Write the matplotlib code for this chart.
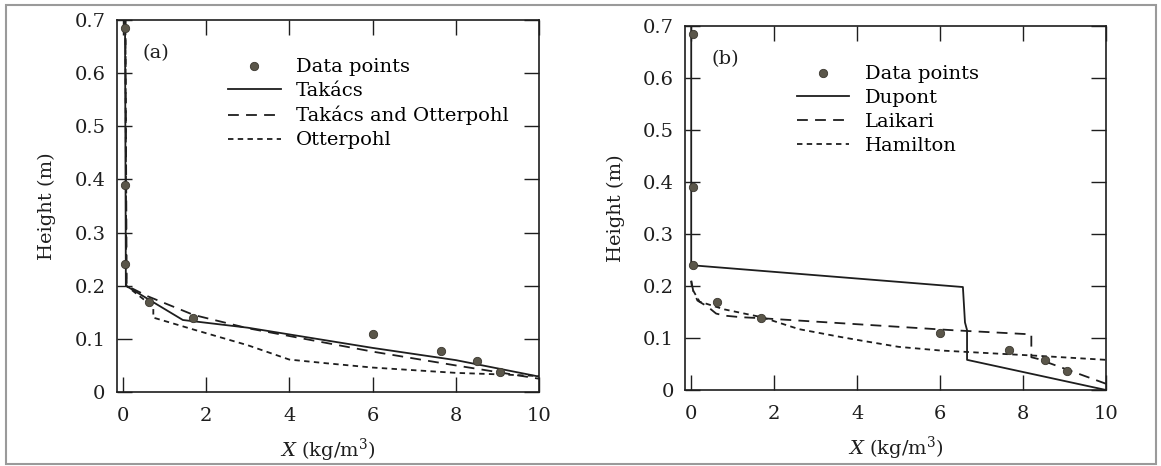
import matplotlib
matplotlib.use("Agg")
import matplotlib.pyplot as plt
from matplotlib.patches import Rectangle

plt.rcParams['font.family'] = ['DejaVu Serif']
plt.rcParams['mathtext.fontset'] = 'dejavuserif'

# measured data points (same in both panels)
data_x = [0.04, 0.05, 0.05, 0.62, 1.69, 6.0, 7.65, 8.52, 9.06]
data_y = [0.685, 0.39, 0.24, 0.169, 0.139, 0.109, 0.077, 0.058, 0.037]

# panel (a) model curves
takacs_x = [0.05, 0.07, 1.44, 3.0, 6.0, 8.0, 10.0]
takacs_y = [0.70, 0.20, 0.1355, 0.121, 0.083, 0.060, 0.029]

tak_ott_x = [0.06, 0.09, 0.6, 1.7, 3.0, 6.0, 8.0, 10.0]
tak_ott_y = [0.70, 0.20, 0.18, 0.145, 0.12, 0.076, 0.050, 0.025]

otterpohl_x = [0.06, 0.08, 0.73, 0.73, 1.72, 3.0, 4.0, 4.9, 6.0, 8.0, 9.1, 10.0]
otterpohl_y = [0.70, 0.20, 0.16, 0.14, 0.117, 0.088, 0.061, 0.054, 0.046, 0.036, 0.033, 0.030]

# panel (b) model curves
dupont_x = [0.0, 0.0, 6.55, 6.6, 6.65, 6.65, 10.0]
dupont_y = [0.70, 0.24, 0.198, 0.13, 0.115, 0.058, 0.0]

laikari_x = [0.0, 0.05, 0.15, 0.4, 0.6, 0.8, 1.2, 1.7, 4.3, 6.3, 8.2, 8.2, 8.35, 10.0]
laikari_y = [0.21, 0.19, 0.172, 0.16, 0.147, 0.143, 0.14, 0.138, 0.125, 0.115, 0.107, 0.063, 0.06, 0.012]

hamilton_x = [0.0, 0.02, 0.2, 0.8, 1.7, 2.6, 3.6, 4.1, 5.0, 6.0, 7.6, 8.3, 10.0]
hamilton_y = [0.21, 0.195, 0.17, 0.155, 0.14, 0.117, 0.102, 0.095, 0.083, 0.076, 0.069, 0.066, 0.058]

xticks = [0, 2, 4, 6, 8, 10]
yticks = [0, 0.1, 0.2, 0.3, 0.4, 0.5, 0.6, 0.7]
ytick_labels = ['0', '0.1', '0.2', '0.3', '0.4', '0.5', '0.6', '0.7']

ink = '#1e1e1e'
dot = '#5a564a'
lw = 1.3
dashed = (0, (6, 4))
dotted = (0, (3, 2.4))

fig = plt.figure(figsize=(11.61, 4.66), dpi=100)
fig.patches.append(Rectangle((6 / 1161, 1 - 464 / 466), 1150 / 1161, 459 / 466,
                             transform=fig.transFigure, fill=False,
                             edgecolor='#9a9a9a', linewidth=1.5))

ax_a = fig.add_axes([116.7 / 1161, 1 - 392 / 466, 422.3 / 1161, 372 / 466])
ax_b = fig.add_axes([685 / 1161, 1 - 390 / 466, 421 / 1161, 364 / 466])


def style(ax, tag):
    ax.set_xlim(-0.15, 10)
    ax.set_ylim(0, 0.7)
    ax.set_xticks(xticks)
    ax.set_yticks(yticks)
    ax.set_yticklabels(ytick_labels)
    ax.tick_params(direction='in', length=11, width=1.0, top=True, right=True,
                   labelsize=14, colors=ink)
    ax.tick_params(axis='x', pad=11)
    ax.tick_params(axis='y', pad=8)
    for s in ax.spines.values():
        s.set_linewidth(1.2)
        s.set_color(ink)
    ax.set_xlabel('$X$ (kg/m$^3$)', fontsize=14, labelpad=8, color=ink)
    ax.set_ylabel('Height (m)', fontsize=14, labelpad=13, color=ink)
    ax.text(0.062, 0.91, tag, transform=ax.transAxes, fontsize=14,
            va='center', ha='left', color=ink)


leg_kw = dict(loc='upper left', frameon=False, borderpad=0, borderaxespad=0,
              handlelength=2.7, handletextpad=0.8, labelspacing=0.3, fontsize=14)

# panel (a)
ax_a.plot(data_x, data_y, 'o', color=dot, markersize=6, markeredgecolor='#3a372f',
          markeredgewidth=0.6, label='Data points', zorder=5)
ax_a.plot(takacs_x, takacs_y, '-', color=ink, lw=lw, label='Takács')
ax_a.plot(tak_ott_x, tak_ott_y, linestyle=dashed, color=ink, lw=lw,
          label='Takács and Otterpohl')
ax_a.plot(otterpohl_x, otterpohl_y, linestyle=dotted, color=ink, lw=lw,
          label='Otterpohl')
style(ax_a, '(a)')
ax_a.legend(bbox_to_anchor=(0.2636, 0.897), **leg_kw)

# panel (b)
ax_b.plot(data_x, data_y, 'o', color=dot, markersize=6, markeredgecolor='#3a372f',
          markeredgewidth=0.6, label='Data points', zorder=5)
ax_b.plot(dupont_x, dupont_y, '-', color=ink, lw=lw, label='Dupont')
ax_b.plot(laikari_x, laikari_y, linestyle=dashed, color=ink, lw=lw, label='Laikari')
ax_b.plot(hamilton_x, hamilton_y, linestyle=dotted, color=ink, lw=lw, label='Hamilton')
style(ax_b, '(b)')
ax_b.legend(bbox_to_anchor=(0.2653, 0.892), **leg_kw)

fig.savefig('out.png', dpi=100)
